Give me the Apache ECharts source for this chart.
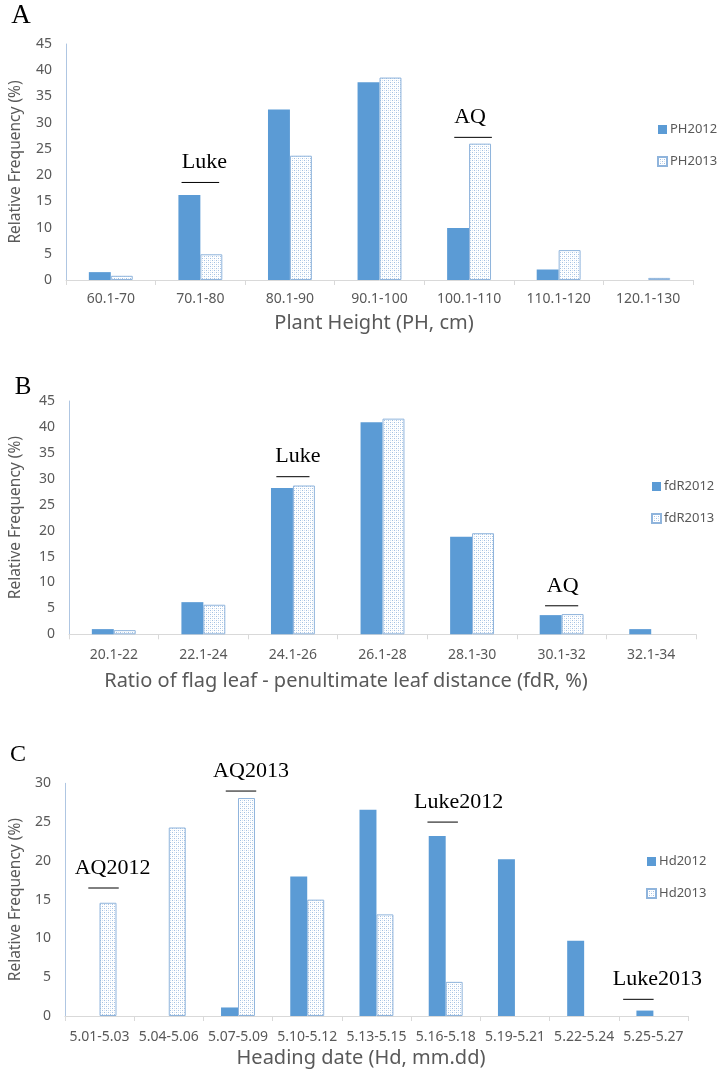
<!DOCTYPE html>
<html><head><meta charset="utf-8">
<script src="https://cdn.jsdelivr.net/npm/echarts@6/dist/echarts.min.js"></script>
<style>html,body{margin:0;padding:0;background:#fff}#c{width:720px;height:1073px}</style>
</head><body><div id="c"></div>
<script>
// ---------- data ----------
const catsA = ['60.1-70','70.1-80','80.1-90','90.1-100','100.1-110','110.1-120','120.1-130'];
const ph2012 = [1.5, 16.2, 32.5, 37.7, 9.9, 2.0, 0];
const ph2013 = [0.8, 4.9, 23.7, 38.6, 26.0, 5.7, 0.4];

const catsB = ['20.1-22','22.1-24','24.1-26','26.1-28','28.1-30','30.1-32','32.1-34'];
const fdr2012 = [1.0, 6.2, 28.2, 40.9, 18.8, 3.7, 1.0];
const fdr2013 = [0.8, 5.7, 28.7, 41.6, 19.5, 3.9, 0];

const catsC = ['5.01-5.03','5.04-5.06','5.07-5.09','5.10-5.12','5.13-5.15','5.16-5.18','5.19-5.21','5.22-5.24','5.25-5.27'];
const hd2012 = [0, 0, 1.1, 18.0, 26.6, 23.2, 20.2, 9.7, 0.7];
const hd2013 = [14.6, 24.3, 28.1, 15.0, 13.1, 4.4, 0, 0, 0];

// annotations: [category, value of marker line, text]
const annotA = [['70.1-80', 18.6, 'Luke'], ['100.1-110', 27.2, 'AQ']];
const annotB = [['24.1-26', 30.4, 'Luke'], ['30.1-32', 5.5, 'AQ']];
const annotC = [['5.01-5.03', 16.5, 'AQ2012'], ['5.07-5.09', 29.0, 'AQ2013'],
                ['5.16-5.18', 25.0, 'Luke2012'], ['5.25-5.27', 2.15, 'Luke2013']];

// ---------- styling / layout (not data) ----------
const annotShift = { // px offsets of the marker line and text from category centre
  'A0': [0, 4], 'A1': [4, 1],
  'B0': [0, 5], 'B1': [0, 1],
  'C0': [4, 13], 'C1': [3, 13], 'C2': [-3, 13], 'C3': [-15, 4]
};
const BLUE = '#5B9BD5';
const GREY = '#595959';
const SANS = '"Noto Sans", "Open Sans", sans-serif';
const SERIF = '"Liberation Serif", "DejaVu Serif", serif';

function makePattern() {
  const c = document.createElement('canvas');
  c.width = 4; c.height = 4;
  const g = c.getContext('2d');
  g.fillStyle = '#ffffff'; g.fillRect(0, 0, 4, 4);
  g.fillStyle = '#A3C0E2';
  g.fillRect(0, 0, 1, 1); g.fillRect(2, 2, 1, 1);
  g.fillStyle = '#D6E3F2';
  g.fillRect(2, 0, 1, 1); g.fillRect(0, 2, 1, 1);
  return c;
}
const pat = makePattern();

const chart = echarts.init(document.getElementById('c'), null, {renderer: 'canvas'});

const grids = [
  {left: 64, right: 27, top: 44, height: 236},
  {left: 68, right: 24, top: 401, height: 233.3},
  {left: 59, right: 32, top: 783.3, height: 232.7}
];

function xAxisCfg(gi, cats, margin) {
  return {
    type: 'category', gridIndex: gi, data: cats,
    axisLine: {lineStyle: {color: '#D9D9D9', width: 1}},
    axisTick: {show: true, length: 5, lineStyle: {color: '#D9D9D9'}},
    axisLabel: {color: GREY, fontSize: 14, fontFamily: SANS, margin: margin, interval: 0},
    splitLine: {show: false}
  };
}
function yAxisCfg(gi, max, gap) {
  return {
    type: 'value', gridIndex: gi, min: 0, max: max, interval: 5,
    name: 'Relative Frequency (%)', nameLocation: 'middle', nameGap: gap, nameRotate: 90,
    nameTextStyle: {color: GREY, fontSize: 15.5, fontFamily: SANS},
    axisLine: {show: true, lineStyle: {color: '#AFC6E2', width: 1}},
    axisTick: {show: false},
    axisLabel: {color: GREY, fontSize: 14, fontFamily: SANS, margin: 14},
    splitLine: {show: false}
  };
}

function hideZero(arr, style) {
  return arr.map(v => v === 0 ? {value: 0, itemStyle: {borderWidth: 0, opacity: 0}} : v);
}

function barPair(gi, n1, d1, n2, d2) {
  return [
    {name: n1, type: 'bar', xAxisIndex: gi, yAxisIndex: gi, data: hideZero(d1),
     barGap: '0%', barCategoryGap: '51%', itemStyle: {color: BLUE}},
    {name: n2, type: 'bar', xAxisIndex: gi, yAxisIndex: gi, data: hideZero(d2),
     barGap: '0%', barCategoryGap: '51%',
     itemStyle: {color: {image: pat, repeat: 'repeat'}, borderColor: '#8FB4DC', borderWidth: 1}}
  ];
}

function annotSeries(gi, key, cats, annots, halfFrac) {
  return {
    type: 'custom', xAxisIndex: gi, yAxisIndex: gi, silent: true, z: 10,
    data: annots.map(a => [cats.indexOf(a[0]), a[1]]),
    renderItem: function (params, api) {
      const p = api.coord([api.value(0), api.value(1)]);
      const band = api.size([1, 0])[0];
      const sh = annotShift[key + params.dataIndex] || [0, 0];
      const cx = p[0] + sh[0];
      const half = band * halfFrac;
      return {
        type: 'group',
        children: [
          {type: 'line', shape: {x1: cx - half, y1: p[1], x2: cx + half, y2: p[1]},
           style: {stroke: '#000', lineWidth: 1}},
          {type: 'text', x: p[0] + sh[1], y: p[1] - 20,
           style: {text: annots[params.dataIndex][2], align: 'center', verticalAlign: 'middle',
                   fontSize: 22, fontFamily: SERIF, fill: '#000'}}
        ]
      };
    }
  };
}

function legendCfg(names, left, top) {
  return {
    data: names, orient: 'vertical', left: left, top: top,
    icon: 'rect', itemWidth: 9, itemHeight: 9, itemGap: 19,
    textStyle: {color: GREY, fontSize: 13, fontFamily: SANS, padding: [0, 0, 0, -2]},
    selectedMode: false
  };
}

function gtext(txt, x, y, size, family, color) {
  return {type: 'text', x: x, y: y,
    style: {text: txt, align: 'center', verticalAlign: 'middle', fontSize: size, fontFamily: family, fill: color}};
}

const option = {
  backgroundColor: '#ffffff',
  animation: false,
  grid: grids,
  xAxis: [xAxisCfg(0, catsA, 12), xAxisCfg(1, catsB, 14), xAxisCfg(2, catsC, 14)],
  yAxis: [yAxisCfg(0, 45, 42), yAxisCfg(1, 45, 45), yAxisCfg(2, 30, 40)],
  legend: [
    legendCfg(['PH2012', 'PH2013'], 652, 118),
    legendCfg(['fdR2012', 'fdR2013'], 646, 475),
    legendCfg(['Hd2012', 'Hd2013'], 641, 850)
  ],
  series: [
    ...barPair(0, 'PH2012', ph2012, 'PH2013', ph2013),
    ...barPair(1, 'fdR2012', fdr2012, 'fdR2013', fdr2013),
    ...barPair(2, 'Hd2012', hd2012, 'Hd2013', hd2013),
    annotSeries(0, 'A', catsA, annotA, 0.21),
    annotSeries(1, 'B', catsB, annotB, 0.185),
    annotSeries(2, 'C', catsC, annotC, 0.22)
  ],
  graphic: [
    gtext('A', 21, 16, 27, SERIF, '#000'),
    gtext('B', 23, 387, 25, SERIF, '#000'),
    gtext('C', 18, 755, 24, SERIF, '#000'),
    gtext('Plant Height (PH, cm)', 374, 323, 20, SANS, GREY),
    gtext('Ratio of flag leaf - penultimate leaf distance (fdR, %)', 346, 681, 20, SANS, GREY),
    gtext('Heading date (Hd, mm.dd)', 361, 1058, 20, SANS, GREY)
  ]
};
chart.setOption(option);
</script></body></html>
